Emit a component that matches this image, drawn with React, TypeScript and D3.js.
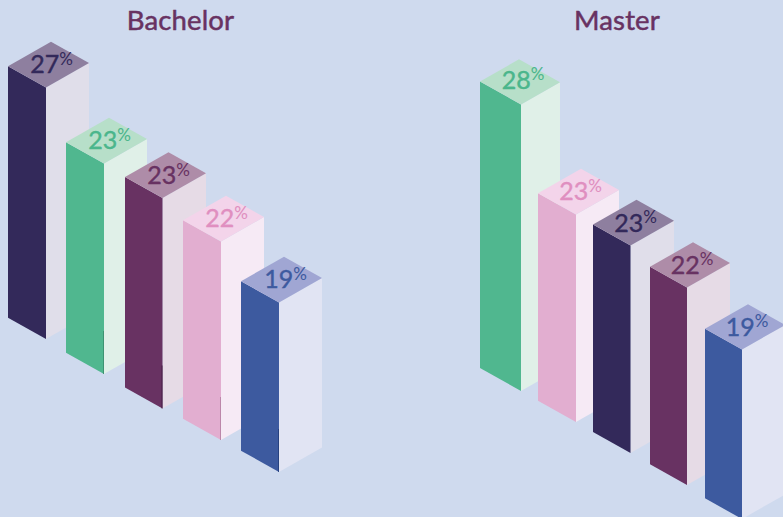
import React from "react";
import * as d3 from "d3";

const W = 783, H = 517;
const bachelorValues = [27, 23, 23, 22, 19];
const masterValues = [28, 23, 23, 22, 19];
const bachelorSeries = ["navy", "green", "plum", "pink", "blue"];
const masterSeries = ["green", "pink", "navy", "plum", "blue"];
const panelTitles = ["Bachelor", "Master"];

const palette: Record<string, { front: string; top: string; side: string; label: string; edge: string }> = {
  navy: { front: "#33295a", top: "#8e7f9f", side: "#e0deea", label: "#33295a", edge: "#1f1840" },
  green: { front: "#50b78f", top: "#b7dfc9", side: "#e0f0e8", label: "#4bb68c", edge: "#3a8a6b" },
  plum: { front: "#683262", top: "#ae8ca8", side: "#e6dbe6", label: "#683262", edge: "#40173c" },
  pink: { front: "#e2aed0", top: "#f3d4ea", side: "#f6eaf5", label: "#e08fc0", edge: "#b27c9f" },
  blue: { front: "#3d5a9f", top: "#a0a6d3", side: "#e1e4f3", label: "#3d5a9f", edge: "#223c78" },
};

const idx = [0, 1, 2, 3, 4];
const panels = [
  {
    title: panelTitles[0], titleX: 180.5, values: bachelorValues, series: bachelorSeries, sliver: true,
    height: d3.scaleLinear().domain([19, 22, 23, 27]).range([169, 198, 210, 251]),
    x: d3.scaleLinear().domain(idx).range([8, 66, 125, 183, 241]),
    base: d3.scaleLinear().domain(idx).range([339, 374, 408.5, 440, 472]),
    fw: d3.scaleLinear().domain(idx).range([38, 38, 37.5, 38, 38]),
    sw: d3.scaleLinear().domain(idx).range([43, 43, 43.5, 43, 43]),
    labelDx: [3, 3, 3, 3, 4],
  },
  {
    title: panelTitles[1], titleX: 617, values: masterValues, series: masterSeries, sliver: false,
    height: d3.scaleLinear().domain([19, 22, 23, 28]).range([169, 197, 207, 286]),
    x: d3.scaleLinear().domain(idx).range([480, 538, 593, 650, 705]),
    base: d3.scaleLinear().domain(idx).range([391, 422, 453, 485, 519]),
    fw: d3.scaleLinear().domain(idx).range([41, 38, 37.5, 37, 37]),
    sw: d3.scaleLinear().domain(idx).range([39, 43, 43.5, 43, 43]),
    labelDx: [3, 2, 2, 2, 2],
  },
];

const poly = d3.line<[number, number]>().curve(d3.curveLinearClosed);
const FONT = "Lato, 'Noto Sans', sans-serif";

function Bar({ p, i }: { p: (typeof panels)[number]; i: number }) {
  const v = p.values[i];
  const c = palette[p.series[i]];
  const h = p.height(v);
  const fw = p.fw(i), sw = p.sw(i);
  const dyF = fw * 0.56, dyS = sw * 0.57;
  const xL = p.x(i), xF = xL + fw, xR = xF + sw;
  const yB = p.base(i), yFT = yB - h - 0.5;
  const yLT = yFT - dyF, yRT = yFT - dyS;
  const apex: [number, number] = [xL + sw, yLT - dyS];
  const cx = (xL + xR) / 2 + p.labelDx[i];
  const cy = yLT + 7;
  return (
    <g>
      <path d={poly([[xF, yFT], [xR, yRT], [xR, yB - dyS], [xF, yB]])!} fill={c.side} />
      <path d={poly([[xL, yLT], [xF, yFT], [xF, yB], [xL, yB - dyF]])!} fill={c.front} />
      <path d={poly([[xL, yLT], apex, [xR, yRT], [xF, yFT]])!} fill={c.top} />
      {p.sliver && i > 0 && (
        <line x1={xF - 0.5} x2={xF - 0.5} y1={yB - 43} y2={yB} stroke={c.edge} strokeWidth={0.8} />
      )}
      <text x={cx} y={cy} textAnchor="middle" fill={c.label} stroke={c.label} strokeWidth={0.4} fontFamily={FONT} fontSize={25}>
        {v}
        <tspan fontSize={17} dy={-8.5} strokeWidth={0.05}>%</tspan>
      </text>
    </g>
  );
}

export default function App() {
  return (
    <svg width={W} height={H} viewBox={`0 0 ${W} ${H}`} style={{ position: "absolute", left: 0, top: 0, background: "#cfdaee" }}>
      {panels.map((p) => (
        <g key={p.title}>
          <text x={p.titleX} y={29.5} textAnchor="middle" fill="#683262" stroke="#683262" strokeWidth={0.5} fontFamily={FONT} fontSize={27.5} letterSpacing={0.15}>
            {p.title}
          </text>
          {p.values.map((_, i) => <Bar key={i} p={p} i={i} />)}
        </g>
      ))}
    </svg>
  );
}
